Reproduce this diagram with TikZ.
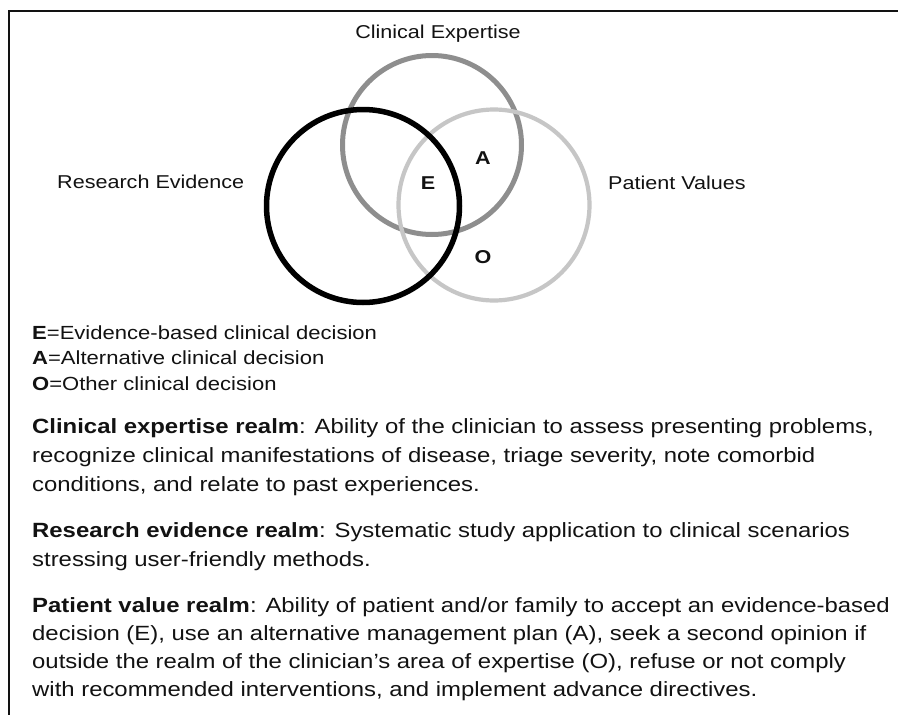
\documentclass[tikz,border=0pt]{standalone}
\usepackage{fontspec}
\setmainfont{Liberation Sans}[FakeStretch=1.16]
\definecolor{ink}{HTML}{121212}
\definecolor{expertgray}{HTML}{8E8E8E}
\definecolor{patientgray}{HTML}{C6C6C6}
\begin{document}
\begin{tikzpicture}[x=1pt,y=-1pt,
  txt/.style={font=\fontsize{18.6}{22}\selectfont, text=ink, inner sep=0pt, anchor=base west},
  keytxt/.style={txt, font=\fontsize{19}{22}\selectfont},
  bodytxt/.style={txt, font=\fontsize{20.6}{24}\selectfont},
  head/.style={txt, anchor=base},
  region/.style={font=\fontsize{18.6}{22}\selectfont\bfseries, text=ink, inner sep=0pt, anchor=center},
  ring/.style={circle, draw, inner sep=0pt}]
\useasboundingbox (0,0) rectangle (898,715);
\fill[white] (0,0) rectangle (898,715);

% frame
\coordinate (fb) at (9,716);
\coordinate (fc) at (9,11);
\coordinate (fr) at (899,11);
\draw[line width=2pt, ink] (fb) -- (fc) -- (fr);

% the three realms
\node[ring, draw=expertgray, line width=5pt, minimum size=179pt] (ce) at (432,145) {};
\node[ring, draw=patientgray, line width=4.2pt, minimum size=191pt] (pv) at (494,205) {};
\node[ring, draw=black, line width=5.5pt, minimum size=193pt] (re) at (363,206) {};

% circle labels
\node[head] (lce) at (438,38) {Clinical Expertise};
\node[txt] (lre) at (57,188) {Research Evidence};
\node[txt] (lpv) at (608,189) {Patient Values};

% decision regions
\node[region] (e) at (428,183) {E};
\node[region] (a) at (483,158) {A};
\node[region] (o) at (483,257) {O};

% legend
\node[keytxt] (k1) at (32,339) {\textbf{E}=Evidence-based clinical decision};
\node[keytxt] (k2) at (32,364) {\textbf{A}=Alternative clinical decision};
\node[keytxt] (k3) at (32,390) {\textbf{O}=Other clinical decision};

% realm descriptions
\node[bodytxt] (c1) at (32,433) {\textbf{Clinical expertise realm}: Ability of the clinician to assess presenting problems,};
\node[bodytxt] (c2) at (32,462) {recognize clinical manifestations of disease, triage severity, note comorbid};
\node[bodytxt] (c3) at (32,491) {conditions, and relate to past experiences.};

\node[bodytxt] (r1) at (32,537) {\textbf{Research evidence realm}: Systematic study application to clinical scenarios};
\node[bodytxt] (r2) at (32,566) {stressing user-friendly methods.};

\node[bodytxt] (p1) at (32,612) {\textbf{Patient value realm}: Ability of patient and/or family to accept an evidence-based};
\node[bodytxt] (p2) at (32,640) {decision (E), use an alternative management plan (A), seek a second opinion if};
\node[bodytxt] (p3) at (32,668) {outside the realm of the clinician’s area of expertise (O), refuse or not comply};
\node[bodytxt] (p4) at (32,696) {with recommended interventions, and implement advance directives.};
\end{tikzpicture}
\end{document}
